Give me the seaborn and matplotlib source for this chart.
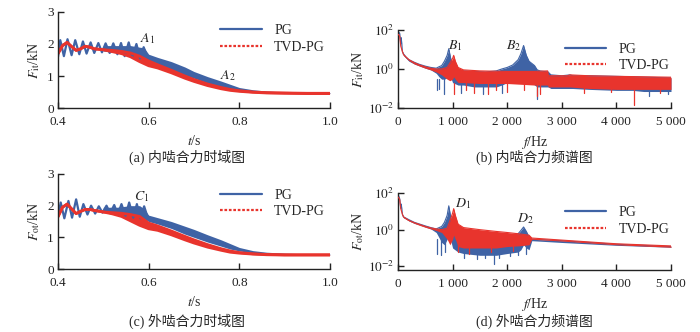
import numpy as np
import pandas as pd
import seaborn as sns
import matplotlib
matplotlib.use("Agg")
import matplotlib.pyplot as plt
from matplotlib.lines import Line2D
from matplotlib.ticker import FixedLocator, NullLocator

# ---------------- data ----------------
# (a) inner mesh force, time domain
a_pg_zig_t = [0.400,0.405,0.413,0.421,0.430,0.438,0.447,0.455,0.463,0.472,0.480,0.489,0.497,
              0.505,0.514,0.522,0.531,0.539,0.547,0.556,0.564,0.573,0.581,0.589,0.597]
a_pg_zig_v = [1.60,2.12,1.62,2.15,1.65,2.12,1.68,2.08,1.70,2.05,1.72,2.03,1.74,
              2.02,1.72,2.02,1.68,2.03,1.62,2.05,1.60,2.00,1.55,1.90,1.60]
a_pg_band_t = [0.50,0.53,0.56,0.58,0.59,0.60,0.62,0.65,0.68,0.70,0.73,0.76,0.78,0.80,0.83,0.86,0.90,0.95,1.00]
a_pg_band_hi = [1.95,1.95,1.95,1.90,1.88,1.68,1.58,1.45,1.28,1.14,0.98,0.84,0.74,0.64,0.57,0.53,0.50,0.49,0.48]
a_pg_band_lo = [1.78,1.72,1.62,1.55,1.50,1.42,1.33,1.20,1.03,0.93,0.78,0.66,0.60,0.56,0.52,0.49,0.47,0.46,0.46]
a_tvd_t = [0.40,0.41,0.42,0.43,0.44,0.45,0.46,0.47,0.48,0.50,0.52,0.54,0.56,0.58,0.60,0.62,0.65,0.68,0.70,
           0.73,0.76,0.78,0.80,0.83,0.86,0.90,0.95,1.00]
a_tvd_hi = [1.70,1.95,2.05,1.92,1.80,1.85,1.93,1.90,1.85,1.82,1.80,1.77,1.72,1.62,1.47,1.35,1.18,1.00,0.89,
            0.75,0.64,0.58,0.54,0.50,0.48,0.47,0.46,0.46]
a_tvd_lo = [1.70,1.95,2.05,1.92,1.80,1.85,1.93,1.90,1.85,1.82,1.76,1.70,1.60,1.45,1.32,1.25,1.10,0.93,0.83,
            0.70,0.60,0.55,0.52,0.49,0.47,0.46,0.45,0.45]

# (c) outer mesh force, time domain
c_pg_zig_t = [0.400,0.406,0.414,0.423,0.431,0.440,0.448,0.456,0.465,0.473,0.482,0.490,0.498,
              0.507,0.515,0.524,0.532,0.540,0.549,0.557,0.566,0.574,0.582,0.590,0.598]
c_pg_zig_v = [1.65,2.10,1.60,2.15,1.62,2.20,1.65,2.05,1.72,2.00,1.75,1.98,1.78,
              2.00,1.76,2.02,1.72,2.05,1.68,2.10,1.62,2.05,1.60,1.98,1.62]
c_pg_band_t = [0.50,0.53,0.56,0.58,0.59,0.60,0.62,0.65,0.68,0.70,0.73,0.76,0.78,0.80,0.83,0.86,0.90,0.95,1.00]
c_pg_band_hi = [1.95,1.95,2.00,2.00,1.90,1.70,1.62,1.50,1.35,1.25,1.08,0.92,0.80,0.68,0.58,0.53,0.50,0.48,0.47]
c_pg_band_lo = [1.80,1.75,1.70,1.62,1.58,1.50,1.42,1.28,1.10,1.00,0.85,0.72,0.63,0.57,0.51,0.48,0.46,0.45,0.45]
c_tvd_t = a_tvd_t
c_tvd_hi = [1.65,1.95,2.05,1.90,1.75,1.82,1.88,1.88,1.85,1.80,1.78,1.76,1.72,1.66,1.45,1.36,1.20,1.03,0.92,
            0.77,0.64,0.57,0.52,0.48,0.46,0.45,0.45,0.45]
c_tvd_lo = [1.65,1.95,2.05,1.90,1.75,1.82,1.88,1.88,1.85,1.80,1.74,1.66,1.52,1.38,1.27,1.22,1.08,0.92,0.82,
            0.69,0.59,0.53,0.50,0.47,0.45,0.44,0.44,0.44]

# (b) inner mesh force, spectrum (envelopes)
b_pg_f = [5,30,50,60,80,100,150,200,300,400,500,600,700,750,800,850,900,930,960,1000,1100,1200,1400,1600,
          1800,1900,2000,2100,2200,2250,2300,2350,2400,2500,2550,2600,2750,2800,3000,3150,3200,3500,4000,4300,4500,5000]
b_pg_hi = [80,70,20,40,8,6,4,3,2.2,1.7,1.4,1.2,1.1,1.3,1.5,2.5,5,11,4,1.5,0.9,0.8,0.75,0.7,
           0.8,1.0,1.2,1.6,3,6,16,5,2.5,1.5,0.9,0.8,0.7,0.5,0.45,0.5,0.45,0.45,0.42,0.4,0.38,0.35]
b_pg_lo = [80,60,18,30,7,5,3.5,2.5,1.8,1.4,1.1,0.9,0.6,0.4,0.3,0.3,0.35,0.5,0.4,0.2,0.15,0.15,0.12,0.12,
           0.12,0.15,0.2,0.3,0.5,0.7,0.5,0.5,0.3,0.15,0.12,0.12,0.12,0.1,0.1,0.1,0.1,0.09,0.08,0.08,0.07,0.07]
b_tvd_f = [5,30,50,80,100,200,300,400,500,600,700,800,900,950,1000,1020,1050,1100,1200,1500,2000,2500,2740,
           2750,3100,3150,3500,4000,4500,5000]
b_tvd_hi = [60,50,15,8,5.5,3,2.1,1.6,1.3,1.1,1.0,1.0,1.2,2.0,3.5,5,2.5,1.2,0.9,0.8,0.75,0.75,0.8,
            0.45,0.45,0.5,0.45,0.42,0.4,0.38]
b_tvd_lo = [60,45,14,7,5,2.7,1.8,1.4,1.1,0.9,0.7,0.5,0.3,0.25,0.3,0.4,0.3,0.2,0.2,0.18,0.18,0.15,0.15,
            0.12,0.12,0.12,0.1,0.09,0.09,0.09]
b_pg_spike_f = [720,760,850,1150,1550,1900,2550,4600,4950]
b_pg_spike_v = [0.08,0.1,0.05,0.06,0.05,0.06,0.03,0.04,0.05]
b_tvd_spike_f = [1020,1250,1400,1650,1800,2000,2300,2550,2600,3400,3900,4330,4800]
b_tvd_spike_v = [0.05,0.08,0.06,0.05,0.08,0.07,0.08,0.04,0.05,0.06,0.07,0.015,0.06]

# (d) outer mesh force, spectrum (envelopes)
d_pg_f = [5,30,50,60,80,100,200,300,400,500,600,700,800,850,900,930,960,1000,1100,1200,1500,1800,2000,
          2200,2250,2300,2350,2400,2450,3000,4000,5000]
d_pg_hi = [80,50,15,25,7,5,3.5,2.5,2.0,1.6,1.3,1.1,1.5,2.5,6,20,6,1.5,1.0,0.9,0.7,0.55,0.5,
           0.6,0.9,1.4,0.8,0.4,0.3,0.25,0.16,0.12]
d_pg_lo = [80,45,14,20,6,4.5,3,2.2,1.8,1.4,1.1,0.7,0.2,0.15,0.3,0.5,0.3,0.1,0.06,0.05,0.04,0.04,0.05,
           0.06,0.08,0.15,0.1,0.08,0.25,0.2,0.14,0.11]
d_tvd_f = [5,30,50,80,100,200,300,400,500,600,700,800,900,950,1000,1020,1050,1100,1200,1500,1800,2000,
           2200,2400,2450,3000,4000,5000]
d_tvd_hi = [60,45,14,7,5,3.2,2.4,1.9,1.5,1.25,1.1,1.0,1.2,3,8,14,6,2.0,1.3,1.0,0.8,0.7,
            0.6,0.5,0.35,0.27,0.17,0.13]
d_tvd_lo = [60,40,13,6.5,4.5,3.0,2.2,1.7,1.35,1.1,0.9,0.7,0.3,0.15,0.3,0.5,0.3,0.12,0.1,0.1,0.1,0.12,
            0.13,0.15,0.3,0.24,0.15,0.11]
d_pg_spike_f = [720,780,860,1200,1450,1600,1750,1850,2050,2200,2350]
d_pg_spike_v = [0.05,0.04,0.06,0.03,0.025,0.03,0.014,0.03,0.035,0.04,0.05]
d_tvd_spike_f = [1100,1300,1700,2100]
d_tvd_spike_v = [0.06,0.05,0.06,0.07]

time_ticks = [0.4, 0.6, 0.8, 1.0]
time_ticklabels = ["0.4", "0.6", "0.8", "1.0"]
force_ticks = [0, 1, 2, 3]
freq_ticks = [0, 1000, 2000, 3000, 4000, 5000]
freq_ticklabels = ["0", "1 000", "2 000", "3 000", "4 000", "5 000"]
spec_ticks = [1e-2, 1e0, 1e2]
spec_ticklabels = [r"$10^{-2}$", r"$10^{0}$", r"$10^{2}$"]
series_names = ["PG", "TVD-PG"]
captions = ["(a) 内啮合力时域图", "(b) 内啮合力频谱图", "(c) 外啮合力时域图", "(d) 外啮合力频谱图"]
ylabels = [r"$F_{\mathrm{it}}$/kN", r"$F_{\mathrm{it}}$/kN", r"$F_{\mathrm{ot}}$/kN", r"$F_{\mathrm{ot}}$/kN"]

# ---------------- style ----------------
sns.set_theme(style="ticks")
plt.rcParams["font.family"] = ["Liberation Serif", "Noto Sans CJK SC", "DejaVu Sans"]
plt.rcParams["mathtext.fontset"] = "stix"
plt.rcParams["axes.linewidth"] = 1.0

BLUE = "#3f63a5"
RED = "#e8342d"

fig = plt.figure(figsize=(7.0, 3.32), dpi=100)
W, H = 700.0, 332.0

def add_ax(l, t, r, b):
    return fig.add_axes([l / W, 1 - b / H, (r - l) / W, (b - t) / H])

ax_a = add_ax(58, 12, 330, 108)
ax_b = add_ax(398, 30, 671, 108)
ax_c = add_ax(58, 174, 330, 269)
ax_d = add_ax(398, 193, 671, 270)

def style(ax):
    sns.despine(ax=ax)
    ax.tick_params(direction="in", length=4, width=1, labelsize=9.5, colors="#222222")
    ax.tick_params(axis="x", pad=6)
    ax.tick_params(axis="y", pad=3)
    for s in ("left", "bottom"):
        ax.spines[s].set_color("#222222")

def time_panel(ax, zt, zv, bt, bhi, blo, tt, thi, tlo, ylabel):
    # PG
    ax.fill_between(bt, blo, bhi, color=BLUE, lw=0)
    sns.lineplot(x=zt, y=zv, ax=ax, color=BLUE, lw=1.6, sort=False, estimator=None)
    # TVD-PG
    ax.fill_between(tt, tlo, thi, color=RED, lw=0)
    sns.lineplot(x=tt, y=thi, ax=ax, color=RED, lw=2.0, estimator=None)
    sns.lineplot(x=tt, y=tlo, ax=ax, color=RED, lw=2.0, estimator=None)
    ax.set_xlim(0.4, 1.0)
    ax.set_ylim(0, 3)
    ax.xaxis.set_major_locator(FixedLocator(time_ticks))
    ax.set_xticklabels(time_ticklabels)
    ax.yaxis.set_major_locator(FixedLocator(force_ticks))
    ax.set_xlabel(r"$t$/s", fontsize=10, labelpad=4)
    ax.set_ylabel(ylabel, fontsize=10, labelpad=4)
    style(ax)

def spec_panel(ax, pf, phi, plo, tf, thi, tlo, psf, psv, tsf, tsv, ylabel, ylo):
    ax.set_yscale("log")
    ax.fill_between(pf, plo, phi, color=BLUE, lw=0, zorder=2)
    sns.lineplot(x=pf, y=phi, ax=ax, color=BLUE, lw=0.8, estimator=None, zorder=2)
    for fx, v in zip(psf, psv):
        ax.plot([fx, fx], [v, 0.3], color=BLUE, lw=0.9, zorder=2)
    ax.fill_between(tf, tlo, thi, color=RED, lw=0, zorder=3)
    sns.lineplot(x=tf, y=thi, ax=ax, color=RED, lw=0.8, estimator=None, zorder=3)
    for fx, v in zip(tsf, tsv):
        ax.plot([fx, fx], [v, 0.2], color=RED, lw=0.9, zorder=3)
    ax.set_xlim(0, 5000)
    ax.set_ylim(ylo, 100)
    ax.xaxis.set_major_locator(FixedLocator(freq_ticks))
    ax.set_xticklabels(freq_ticklabels)
    ax.yaxis.set_major_locator(FixedLocator(spec_ticks))
    ax.yaxis.set_minor_locator(NullLocator())
    ax.set_yticklabels(spec_ticklabels)
    ax.set_xlabel(r"$f$/Hz", fontsize=10, labelpad=4)
    ax.set_ylabel(ylabel, fontsize=10, labelpad=1)
    style(ax)

time_panel(ax_a, a_pg_zig_t, a_pg_zig_v, a_pg_band_t, a_pg_band_hi, a_pg_band_lo,
           a_tvd_t, a_tvd_hi, a_tvd_lo, ylabels[0])
time_panel(ax_c, c_pg_zig_t, c_pg_zig_v, c_pg_band_t, c_pg_band_hi, c_pg_band_lo,
           c_tvd_t, c_tvd_hi, c_tvd_lo, ylabels[2])
spec_panel(ax_b, b_pg_f, b_pg_hi, b_pg_lo, b_tvd_f, b_tvd_hi, b_tvd_lo,
           b_pg_spike_f, b_pg_spike_v, b_tvd_spike_f, b_tvd_spike_v, ylabels[1], 1e-2)
spec_panel(ax_d, d_pg_f, d_pg_hi, d_pg_lo, d_tvd_f, d_tvd_hi, d_tvd_lo,
           d_pg_spike_f, d_pg_spike_v, d_tvd_spike_f, d_tvd_spike_v, ylabels[3], 10 ** -2.2)

# annotations
ann = dict(fontsize=10, ha="center", va="center", zorder=5)
ax_a.text(0.598, 2.17, r"$A_1$", **ann)
ax_a.text(0.775, 1.02, r"$A_2$", **ann)
ax_b.text(1050, 15, r"$B_1$", **ann)
ax_b.text(2120, 15, r"$B_2$", **ann)
ax_c.text(0.585, 2.30, r"$C_1$", **ann)
ax_d.text(1200, 28, r"$D_1$", **ann)
ax_d.text(2340, 4.1, r"$D_2$", **ann)

# legends
handles = [Line2D([], [], color=BLUE, lw=1.6, ls="-"),
           Line2D([], [], color=RED, lw=1.6, ls=(0, (1.2, 0.8)))]
for ax, anchor in ((ax_a, (0.575, 0.93)), (ax_c, (0.575, 0.905)),
                   (ax_b, (0.59, 0.91)), (ax_d, (0.59, 0.90))):
    ax.legend(handles, series_names, loc="upper left", bbox_to_anchor=anchor, frameon=False,
              handlelength=3.0, handletextpad=0.9, labelspacing=0.25, fontsize=10, borderaxespad=0)

# captions
cap_kw = dict(ha="center", va="center", fontsize=10,
              family=["Liberation Serif", "Noto Sans CJK SC", "DejaVu Sans"])
fig.text(187 / W, 1 - 157 / H, captions[0], **cap_kw)
fig.text(534 / W, 1 - 157 / H, captions[1], **cap_kw)
fig.text(187 / W, 1 - 321 / H, captions[2], **cap_kw)
fig.text(534 / W, 1 - 321 / H, captions[3], **cap_kw)

fig.savefig("out.png", dpi=100, facecolor="white")
